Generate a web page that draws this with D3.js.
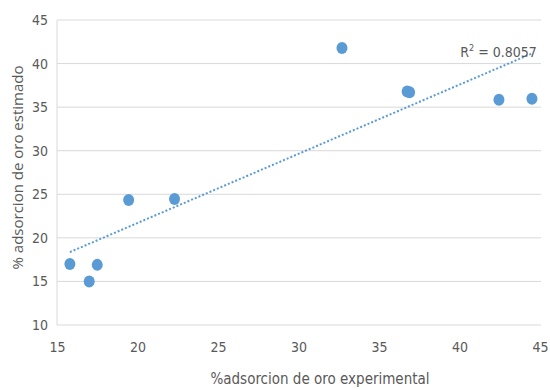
<!DOCTYPE html>
<html>
<head>
<meta charset="utf-8">
<script src="https://cdn.jsdelivr.net/npm/d3@7"></script>
<style>
  body { margin: 0; background: #fff; }
  text { font-family: "DejaVu Sans Condensed", "Liberation Sans Narrow", "Liberation Sans", sans-serif; fill: #595959; }
</style>
</head>
<body>
<svg width="550" height="390"></svg>
<script>
// data
var experimental = [15.8, 17.0, 17.5, 19.45, 22.3, 32.7, 36.75, 36.9, 42.45, 44.5];
var estimado     = [17.0, 15.0, 16.9, 24.35, 24.45, 41.8, 36.8, 36.7, 35.85, 35.95];
var xTicks = [15, 20, 25, 30, 35, 40, 45];
var yTicks = [10, 15, 20, 25, 30, 35, 40, 45];
var r2Label = "0.8057";

var margin = {top: 20, right: 9, bottom: 65, left: 57};
var width = 550 - margin.left - margin.right;
var height = 390 - margin.top - margin.bottom;

var svg = d3.select("svg");
var g = svg.append("g")
    .attr("transform", "translate(" + margin.left + "," + margin.top + ")");

var x = d3.scaleLinear().domain([15, 45]).range([0, width - 1]);
var y = d3.scaleLinear().domain([10, 45]).range([height, 0]);

// gridlines
g.selectAll(".grid")
    .data(yTicks)
    .enter().append("line")
    .attr("x1", 0).attr("x2", width)
    .attr("y1", function(d) { return y(d); })
    .attr("y2", function(d) { return y(d); })
    .attr("stroke", "#d9d9d9")
    .attr("stroke-width", 1);

// left axis line
g.append("line")
    .attr("x1", 0).attr("x2", 0)
    .attr("y1", y(45)).attr("y2", y(10))
    .attr("stroke", "#d9d9d9");

var yAxis = g.append("g")
    .call(d3.axisLeft(y).tickValues(yTicks).tickSize(0).tickPadding(9));
yAxis.select(".domain").remove();
yAxis.selectAll("text").style("font-size", "14px").attr("fill", "#595959");

var xAxis = g.append("g")
    .attr("transform", "translate(0," + height + ")")
    .call(d3.axisBottom(x).tickValues(xTicks).tickSize(0).tickPadding(17));
xAxis.select(".domain").remove();
xAxis.selectAll("text").style("font-size", "14px").attr("fill", "#595959");

// linear trend line (least squares)
var n = experimental.length;
var mx = d3.mean(experimental), my = d3.mean(estimado);
var sxy = 0, sxx = 0;
for (var i = 0; i < n; i++) {
    sxy += (experimental[i] - mx) * (estimado[i] - my);
    sxx += (experimental[i] - mx) * (experimental[i] - mx);
}
var slope = sxy / sxx;
var intercept = my - slope * mx;
var x0 = d3.min(experimental), x1 = d3.max(experimental);

g.append("line")
    .attr("x1", x(x0)).attr("y1", y(slope * x0 + intercept))
    .attr("x2", x(x1)).attr("y2", y(slope * x1 + intercept))
    .attr("stroke", "#5b9bd5")
    .attr("stroke-width", 2)
    .attr("stroke-dasharray", "2,2");

// points
g.selectAll(".dot")
    .data(experimental)
    .enter().append("ellipse")
    .attr("class", "dot")
    .attr("cx", function(d) { return x(d); })
    .attr("cy", function(d, i) { return y(estimado[i]); })
    .attr("rx", 5.5)
    .attr("ry", 6)
    .attr("fill", "#5b9bd5");

// R² label
var r2 = g.append("text")
    .attr("x", x(40.05))
    .attr("y", y(41.4) + 6)
    .style("font-size", "14px");
r2.append("tspan").text("R");
r2.append("tspan").attr("dy", -6).style("font-size", "9px").text("2");
r2.append("tspan").attr("dy", 6).text(" = " + r2Label);

// axis titles
svg.append("text")
    .attr("transform", "translate(23," + (margin.top + height / 2 - 5) + ") rotate(-90)")
    .attr("text-anchor", "middle")
    .style("font-family", "'Open Sans', sans-serif")
    .style("font-size", "15px")
    .text("% adsorcion de oro estimado");

svg.append("text")
    .attr("x", 320)
    .attr("y", 384)
    .attr("text-anchor", "middle")
    .style("font-size", "15px")
    .text("%adsorcion de oro experimental");
</script>
</body>
</html>
